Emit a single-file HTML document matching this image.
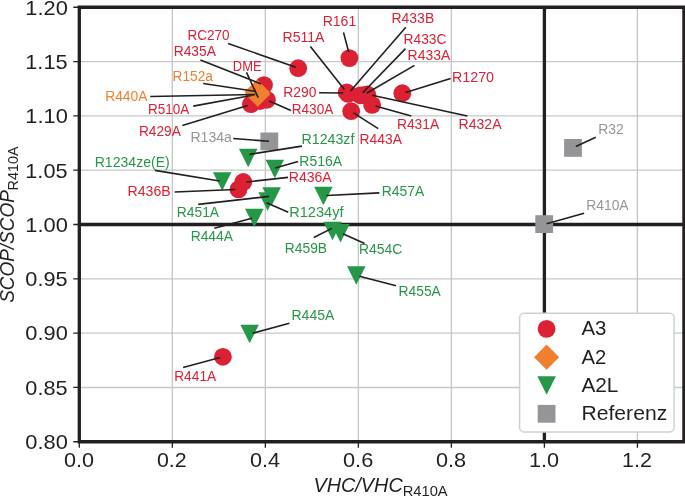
<!DOCTYPE html>
<html><head><meta charset="utf-8"><style>
html,body{margin:0;padding:0;background:#fff;}
svg{display:block;will-change:transform;}
text{font-family:"Liberation Sans",sans-serif;}
</style></head><body>
<svg width="685" height="496" viewBox="0 0 685 496">
<rect width="685" height="496" fill="#fff"/>
<path d="M172.32 7.24V441.76 M265.34 7.24V441.76 M358.36 7.24V441.76 M451.38 7.24V441.76 M637.42 7.24V441.76 M79.30 387.45H683.93 M79.30 333.13H683.93 M79.30 278.82H683.93 M79.30 170.18H683.93 M79.30 115.87H683.93 M79.30 61.56H683.93" stroke="#c6c7c9" stroke-width="1.35" fill="none"/>
<path d="M544.40 7.24V441.76M79.30 224.50H683.93" stroke="#231f20" stroke-width="3.3" fill="none"/>
<circle cx="298.2" cy="68.2" r="8.9" fill="#dc2134"/>
<circle cx="349.4" cy="58.1" r="8.9" fill="#dc2134"/>
<circle cx="264" cy="85.1" r="8.9" fill="#dc2134"/>
<circle cx="267" cy="99.8" r="8.9" fill="#dc2134"/>
<circle cx="250.9" cy="104.2" r="8.9" fill="#dc2134"/>
<circle cx="260" cy="101" r="8.9" fill="#dc2134"/>
<circle cx="257.6" cy="94.4" r="8.9" fill="#dc2134"/>
<circle cx="346.7" cy="92.3" r="8.9" fill="#dc2134"/>
<circle cx="348.2" cy="93.9" r="8.9" fill="#dc2134"/>
<circle cx="360.2" cy="95.3" r="8.9" fill="#dc2134"/>
<circle cx="363.5" cy="95.1" r="8.9" fill="#dc2134"/>
<circle cx="367.3" cy="94.5" r="8.9" fill="#dc2134"/>
<circle cx="372.1" cy="104.9" r="8.9" fill="#dc2134"/>
<circle cx="351.2" cy="111.2" r="8.9" fill="#dc2134"/>
<circle cx="402.3" cy="93.2" r="8.9" fill="#dc2134"/>
<circle cx="243.3" cy="182" r="8.9" fill="#dc2134"/>
<circle cx="238.5" cy="189.4" r="8.9" fill="#dc2134"/>
<circle cx="222.9" cy="356.8" r="8.9" fill="#dc2134"/>
<path d="M257.1 79.51L269.69 92.1L257.1 104.69L244.51 92.1Z" fill="#f08030"/>
<path d="M257.7 81.61L270.29 94.2L257.7 106.79L245.11 94.2Z" fill="#f08030"/>
<path d="M238.95 148.65L257.45 148.65L248.2 167.15Z" fill="#269648"/>
<path d="M265.55 159.75L284.05 159.75L274.8 178.25Z" fill="#269648"/>
<path d="M212.95 172.25L231.45 172.25L222.2 190.75Z" fill="#269648"/>
<path d="M262.35 187.25L280.85 187.25L271.6 205.75Z" fill="#269648"/>
<path d="M258.35 192.15L276.85 192.15L267.6 210.65Z" fill="#269648"/>
<path d="M245.05 208.75L263.55 208.75L254.3 227.25Z" fill="#269648"/>
<path d="M314.15 186.75L332.65 186.75L323.4 205.25Z" fill="#269648"/>
<path d="M323.25 221.75L341.75 221.75L332.5 240.25Z" fill="#269648"/>
<path d="M331.25 223.95L349.75 223.95L340.5 242.45Z" fill="#269648"/>
<path d="M347.05 266.15L365.55 266.15L356.3 284.65Z" fill="#269648"/>
<path d="M240.35 324.85L258.85 324.85L249.6 343.35Z" fill="#269648"/>
<rect x="260.40" y="132.50" width="17.8" height="17.8" fill="#939598"/>
<rect x="564.10" y="139.00" width="17.8" height="17.8" fill="#939598"/>
<rect x="535.30" y="215.20" width="17.8" height="17.8" fill="#939598"/>
<path d="M228.1 43.5L295.8 67.2 M200.4 60L261.1 83.9 M246.5 72.3L258.2 97.6 M203.2 83.5L254.7 91.3 M150.2 96.5L255.3 94.5 M193.2 106.1L254.1 95 M182.4 125.5L247.7 105.6 M343.5 32.4L348.6 51.8 M310.4 46.4L344.4 89.4 M405.8 27.3L350.5 91.1 M405.5 48.6L362.7 92.7 M414.5 65.4L366.6 93.3 M450.6 78.4L405.6 92.6 M319.1 92.8L343.3 93 M290.9 110.6L269.3 101.1 M411.3 116L375.5 106 M467.3 116L372.2 95.3 M378.2 128.6L353.5 112.8 M233.2 138.5L269 141.3 M301.9 146.1L249.4 154.4 M298.1 161.6L275.2 168.1 M288 177.4L246.6 182 M155 170.4L219.5 181 M174.7 192L235.2 189.5 M198.2 204.4L269 196.4 M214.3 228.2L252 218.2 M288.3 212.3L266.5 202.8 M379.4 192.9L326.4 195.5 M313.8 237.5L331.9 228.4 M364.6 243.4L342.8 233.7 M396 285.8L359.5 276.3 M595.8 137.3L575.8 146.5 M584.1 213.2L546.6 223.7 M289.4 323.3L252.8 333.2 M183.1 367.4L220.1 357.5" stroke="#231f20" stroke-width="1.6" fill="none"/>
<text x="187.62" y="40.00" font-size="13.8" fill="#dc2134" textLength="42.02" lengthAdjust="spacingAndGlyphs" style="">RC270</text>
<text x="173.70" y="56.40" font-size="13.8" fill="#dc2134" textLength="42.30" lengthAdjust="spacingAndGlyphs" style="">R435A</text>
<text x="232.86" y="71.40" font-size="13.8" fill="#dc2134" textLength="28.87" lengthAdjust="spacingAndGlyphs" style="">DME</text>
<text x="172.61" y="81.40" font-size="13.8" fill="#f08030" textLength="40.26" lengthAdjust="spacingAndGlyphs" style="">R152a</text>
<text x="105.20" y="100.90" font-size="13.8" fill="#f08030" textLength="42.30" lengthAdjust="spacingAndGlyphs" style="">R440A</text>
<text x="147.92" y="114.40" font-size="13.8" fill="#dc2134" textLength="41.28" lengthAdjust="spacingAndGlyphs" style="">R510A</text>
<text x="138.91" y="135.90" font-size="13.8" fill="#dc2134" textLength="41.89" lengthAdjust="spacingAndGlyphs" style="">R429A</text>
<text x="322.68" y="26.20" font-size="13.8" fill="#dc2134" textLength="33.52" lengthAdjust="spacingAndGlyphs" style="">R161</text>
<text x="282.48" y="41.80" font-size="13.8" fill="#dc2134" textLength="41.99" lengthAdjust="spacingAndGlyphs" style="">R511A</text>
<text x="391.49" y="22.50" font-size="13.8" fill="#dc2134" textLength="42.72" lengthAdjust="spacingAndGlyphs" style="">R433B</text>
<text x="403.60" y="44.40" font-size="13.8" fill="#dc2134" textLength="42.86" lengthAdjust="spacingAndGlyphs" style="">R433C</text>
<text x="407.59" y="59.50" font-size="13.8" fill="#dc2134" textLength="42.71" lengthAdjust="spacingAndGlyphs" style="">R433A</text>
<text x="451.96" y="82.10" font-size="13.8" fill="#dc2134" textLength="42.13" lengthAdjust="spacingAndGlyphs" style="">R1270</text>
<text x="283.30" y="96.60" font-size="13.8" fill="#dc2134" textLength="33.10" lengthAdjust="spacingAndGlyphs" style="">R290</text>
<text x="291.72" y="113.80" font-size="13.8" fill="#dc2134" textLength="41.58" lengthAdjust="spacingAndGlyphs" style="">R430A</text>
<text x="396.90" y="128.60" font-size="13.8" fill="#dc2134" textLength="42.30" lengthAdjust="spacingAndGlyphs" style="">R431A</text>
<text x="458.58" y="128.60" font-size="13.8" fill="#dc2134" textLength="42.92" lengthAdjust="spacingAndGlyphs" style="">R432A</text>
<text x="359.59" y="144.40" font-size="13.8" fill="#dc2134" textLength="42.41" lengthAdjust="spacingAndGlyphs" style="">R443A</text>
<text x="190.48" y="142.20" font-size="13.8" fill="#939598" textLength="41.39" lengthAdjust="spacingAndGlyphs" style="">R134a</text>
<text x="301.47" y="144.10" font-size="13.8" fill="#269648" textLength="52.93" lengthAdjust="spacingAndGlyphs" style="">R1243zf</text>
<text x="299.28" y="165.50" font-size="13.8" fill="#269648" textLength="42.82" lengthAdjust="spacingAndGlyphs" style="">R516A</text>
<text x="288.78" y="182.00" font-size="13.8" fill="#dc2134" textLength="42.92" lengthAdjust="spacingAndGlyphs" style="">R436A</text>
<text x="94.68" y="166.90" font-size="13.8" fill="#269648" textLength="75.08" lengthAdjust="spacingAndGlyphs" style="">R1234ze(E)</text>
<text x="127.58" y="196.30" font-size="13.8" fill="#dc2134" textLength="43.14" lengthAdjust="spacingAndGlyphs" style="">R436B</text>
<text x="176.69" y="217.40" font-size="13.8" fill="#269648" textLength="42.41" lengthAdjust="spacingAndGlyphs" style="">R451A</text>
<text x="190.70" y="240.90" font-size="13.8" fill="#269648" textLength="42.30" lengthAdjust="spacingAndGlyphs" style="">R444A</text>
<text x="289.24" y="217.40" font-size="13.8" fill="#269648" textLength="54.26" lengthAdjust="spacingAndGlyphs" style="">R1234yf</text>
<text x="381.69" y="196.20" font-size="13.8" fill="#269648" textLength="42.61" lengthAdjust="spacingAndGlyphs" style="">R457A</text>
<text x="284.69" y="252.90" font-size="13.8" fill="#269648" textLength="42.41" lengthAdjust="spacingAndGlyphs" style="">R459B</text>
<text x="359.09" y="254.20" font-size="13.8" fill="#269648" textLength="43.27" lengthAdjust="spacingAndGlyphs" style="">R454C</text>
<text x="398.50" y="296.30" font-size="13.8" fill="#269648" textLength="42.30" lengthAdjust="spacingAndGlyphs" style="">R455A</text>
<text x="598.29" y="134.00" font-size="13.8" fill="#939598" textLength="25.54" lengthAdjust="spacingAndGlyphs" style="">R32</text>
<text x="586.30" y="210.30" font-size="13.8" fill="#939598" textLength="42.30" lengthAdjust="spacingAndGlyphs" style="">R410A</text>
<text x="291.48" y="320.00" font-size="13.8" fill="#269648" textLength="42.92" lengthAdjust="spacingAndGlyphs" style="">R445A</text>
<text x="174.21" y="380.50" font-size="13.8" fill="#dc2134" textLength="41.99" lengthAdjust="spacingAndGlyphs" style="">R441A</text>
<path d="M79.30 5.59V443.41M683.93 5.59V443.41M77.65 7.24H685.58M77.65 441.76H685.58" stroke="#231f20" stroke-width="3.3" fill="none"/>
<path d="M73.30 441.76H79.30 M73.30 387.44H79.30 M73.30 333.13H79.30 M73.30 278.81H79.30 M73.30 224.50H79.30 M73.30 170.18H79.30 M73.30 115.87H79.30 M73.30 61.55H79.30 M73.30 7.24H79.30 M79.30 441.76V447.76 M172.32 441.76V447.76 M265.34 441.76V447.76 M358.36 441.76V447.76 M451.38 441.76V447.76 M544.40 441.76V447.76 M637.42 441.76V447.76" stroke="#231f20" stroke-width="1.3" fill="none"/>
<text x="25.35" y="449.11" font-size="20.6" fill="#231f20" textLength="42.48" lengthAdjust="spacingAndGlyphs" style="">0.80</text>
<text x="25.36" y="394.79" font-size="20.6" fill="#231f20" textLength="42.18" lengthAdjust="spacingAndGlyphs" style="">0.85</text>
<text x="25.35" y="340.48" font-size="20.6" fill="#231f20" textLength="42.48" lengthAdjust="spacingAndGlyphs" style="">0.90</text>
<text x="25.36" y="286.16" font-size="20.6" fill="#231f20" textLength="42.18" lengthAdjust="spacingAndGlyphs" style="">0.95</text>
<text x="25.30" y="231.85" font-size="20.6" fill="#231f20" textLength="42.54" lengthAdjust="spacingAndGlyphs" style="">1.00</text>
<text x="25.31" y="177.53" font-size="20.6" fill="#231f20" textLength="42.22" lengthAdjust="spacingAndGlyphs" style="">1.05</text>
<text x="25.30" y="123.22" font-size="20.6" fill="#231f20" textLength="42.54" lengthAdjust="spacingAndGlyphs" style="">1.10</text>
<text x="25.31" y="68.90" font-size="20.6" fill="#231f20" textLength="42.22" lengthAdjust="spacingAndGlyphs" style="">1.15</text>
<text x="25.30" y="14.59" font-size="20.6" fill="#231f20" textLength="42.54" lengthAdjust="spacingAndGlyphs" style="">1.20</text>
<text x="63.96" y="467.40" font-size="20.6" fill="#231f20" textLength="30.01" lengthAdjust="spacingAndGlyphs" style="">0.0</text>
<text x="156.99" y="467.40" font-size="20.6" fill="#231f20" textLength="29.71" lengthAdjust="spacingAndGlyphs" style="">0.2</text>
<text x="250.00" y="467.40" font-size="20.6" fill="#231f20" textLength="30.00" lengthAdjust="spacingAndGlyphs" style="">0.4</text>
<text x="343.02" y="467.40" font-size="20.6" fill="#231f20" textLength="30.23" lengthAdjust="spacingAndGlyphs" style="">0.6</text>
<text x="436.04" y="467.40" font-size="20.6" fill="#231f20" textLength="30.13" lengthAdjust="spacingAndGlyphs" style="">0.8</text>
<text x="529.02" y="467.40" font-size="20.6" fill="#231f20" textLength="30.06" lengthAdjust="spacingAndGlyphs" style="">1.0</text>
<text x="622.06" y="467.40" font-size="20.6" fill="#231f20" textLength="29.74" lengthAdjust="spacingAndGlyphs" style="">1.2</text>
<text x="313.47" y="492.40" font-size="20.6" fill="#231f20" textLength="89.25" lengthAdjust="spacingAndGlyphs" style="font-style:italic;">VHC/VHC</text>
<text x="402.79" y="495.50" font-size="14.5" fill="#231f20" textLength="44.85" lengthAdjust="spacingAndGlyphs" style="">R410A</text>
<g transform="rotate(-90)"><text x="-302.85" y="14.30" font-size="20.6" fill="#231f20" textLength="112.63" lengthAdjust="spacingAndGlyphs" style="font-style:italic;">SCOP/SCOP</text><text x="-190.39" y="17.50" font-size="14.5" fill="#231f20" textLength="43.83" lengthAdjust="spacingAndGlyphs" style="">R410A</text></g>
<rect x="519.6" y="313.3" width="154.5" height="118.6" rx="4.5" fill="#fff" stroke="#cfd0d3" stroke-width="1.5"/>
<circle cx="546.6" cy="328.9" r="8.9" fill="#dc2134"/>
<path d="M546.6 344.61L559.19 357.2L546.6 369.79L534.01 357.2Z" fill="#f08030"/>
<path d="M537.35 376.35L555.85 376.35L546.6 394.85Z" fill="#269648"/>
<rect x="537.70" y="404.90" width="17.8" height="17.8" fill="#939598"/>
<text x="581.40" y="335.40" font-size="20.6" fill="#231f20" textLength="24.99" lengthAdjust="spacingAndGlyphs" style="">A3</text>
<text x="581.40" y="363.70" font-size="20.6" fill="#231f20" textLength="24.78" lengthAdjust="spacingAndGlyphs" style="">A2</text>
<text x="581.40" y="392.00" font-size="20.6" fill="#231f20" textLength="37.06" lengthAdjust="spacingAndGlyphs" style="">A2L</text>
<text x="581.46" y="420.30" font-size="20.6" fill="#231f20" textLength="85.75" lengthAdjust="spacingAndGlyphs" style="">Referenz</text>
</svg>
</body></html>
